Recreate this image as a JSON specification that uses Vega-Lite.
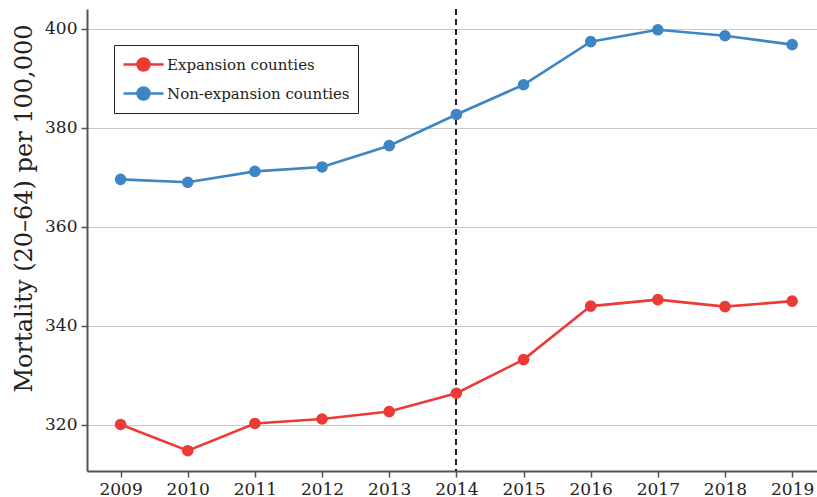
{
  "$schema": "https://vega.github.io/schema/vega-lite/v6.json",
  "width": 730,
  "height": 462,
  "autosize": {"type": "none"},
  "padding": {"left": 87, "top": 9, "right": 0, "bottom": 26},
  "background": "white",
  "config": {
    "font": "DejaVu Serif",
    "view": {"stroke": null},
    "axis": {
      "domainColor": "#555555",
      "domainWidth": 2,
      "tickColor": "#555555",
      "tickWidth": 1.5,
      "tickSize": 6,
      "labelFont": "DejaVu Serif",
      "labelFontSize": 17,
      "labelColor": "#222222",
      "titleFont": "DejaVu Serif",
      "titleFontWeight": "normal",
      "titleColor": "#222222"
    }
  },
  "data": {
    "values": [
      {"year": 2009, "group": "Expansion counties", "mortality": 320.1},
      {"year": 2010, "group": "Expansion counties", "mortality": 314.8},
      {"year": 2011, "group": "Expansion counties", "mortality": 320.3},
      {"year": 2012, "group": "Expansion counties", "mortality": 321.2},
      {"year": 2013, "group": "Expansion counties", "mortality": 322.7},
      {"year": 2014, "group": "Expansion counties", "mortality": 326.4},
      {"year": 2015, "group": "Expansion counties", "mortality": 333.2},
      {"year": 2016, "group": "Expansion counties", "mortality": 344.0},
      {"year": 2017, "group": "Expansion counties", "mortality": 345.3},
      {"year": 2018, "group": "Expansion counties", "mortality": 343.9},
      {"year": 2019, "group": "Expansion counties", "mortality": 345.0},
      {"year": 2009, "group": "Non-expansion counties", "mortality": 369.6},
      {"year": 2010, "group": "Non-expansion counties", "mortality": 369.0},
      {"year": 2011, "group": "Non-expansion counties", "mortality": 371.2},
      {"year": 2012, "group": "Non-expansion counties", "mortality": 372.1},
      {"year": 2013, "group": "Non-expansion counties", "mortality": 376.4},
      {"year": 2014, "group": "Non-expansion counties", "mortality": 382.7},
      {"year": 2015, "group": "Non-expansion counties", "mortality": 388.7},
      {"year": 2016, "group": "Non-expansion counties", "mortality": 397.4},
      {"year": 2017, "group": "Non-expansion counties", "mortality": 399.8},
      {"year": 2018, "group": "Non-expansion counties", "mortality": 398.6},
      {"year": 2019, "group": "Non-expansion counties", "mortality": 396.8}
    ]
  },
  "layer": [
    {
      "mark": {"type": "rule", "color": "#222222", "strokeWidth": 1.2, "strokeDash": [6, 4]},
      "encoding": {
        "x": {"datum": 2014, "type": "quantitative", "scale": {"domain": [2008.5, 2019.37]}}
      }
    },
    {
      "mark": {
        "type": "line",
        "strokeWidth": 2.6,
        "point": {"filled": true, "size": 135}
      },
      "encoding": {
        "x": {
          "field": "year",
          "type": "quantitative",
          "scale": {"domain": [2008.5, 2019.37], "nice": false, "zero": false},
          "axis": {
            "title": null,
            "values": [2009, 2010, 2011, 2012, 2013, 2014, 2015, 2016, 2017, 2018, 2019],
            "format": "d",
            "grid": false,
            "labelPadding": 4
          }
        },
        "y": {
          "field": "mortality",
          "type": "quantitative",
          "scale": {"domain": [310.7, 404], "nice": false, "zero": false},
          "axis": {
            "title": "Mortality (20–64) per 100,000",
            "titleFontSize": 24,
            "titlePadding": 8,
            "titleY": 199,
            "values": [320, 340, 360, 380, 400],
            "grid": true,
            "gridColor": "#c8c8c8",
            "gridWidth": 1.2,
            "labelPadding": 4
          }
        },
        "color": {
          "field": "group",
          "type": "nominal",
          "scale": {
            "domain": ["Expansion counties", "Non-expansion counties"],
            "range": ["#ec3a37", "#3d85c3"]
          },
          "legend": {
            "title": null,
            "orient": "none",
            "legendX": 27,
            "legendY": 36,
            "direction": "vertical",
            "strokeColor": "#222222",
            "fillColor": "white",
            "padding": 8,
            "cornerRadius": 0,
            "symbolType": "M-2,0H2M0.6,0A0.6,0.6,0,1,1,-0.6,0A0.6,0.6,0,1,1,0.6,0Z",
            "symbolSize": 400,
            "symbolStrokeWidth": 2.6,
            "symbolOffset": 10,
            "labelOffset": 12,
            "labelLimit": 0,
            "rowPadding": 6,
            "labelFont": "DejaVu Serif",
            "labelFontSize": 15,
            "labelColor": "#222222",
            "encode": {
              "symbols": {
                "update": {
                  "fill": {"scale": "color", "field": "value"},
                  "stroke": {"scale": "color", "field": "value"}
                }
              }
            }
          }
        }
      }
    }
  ]
}
